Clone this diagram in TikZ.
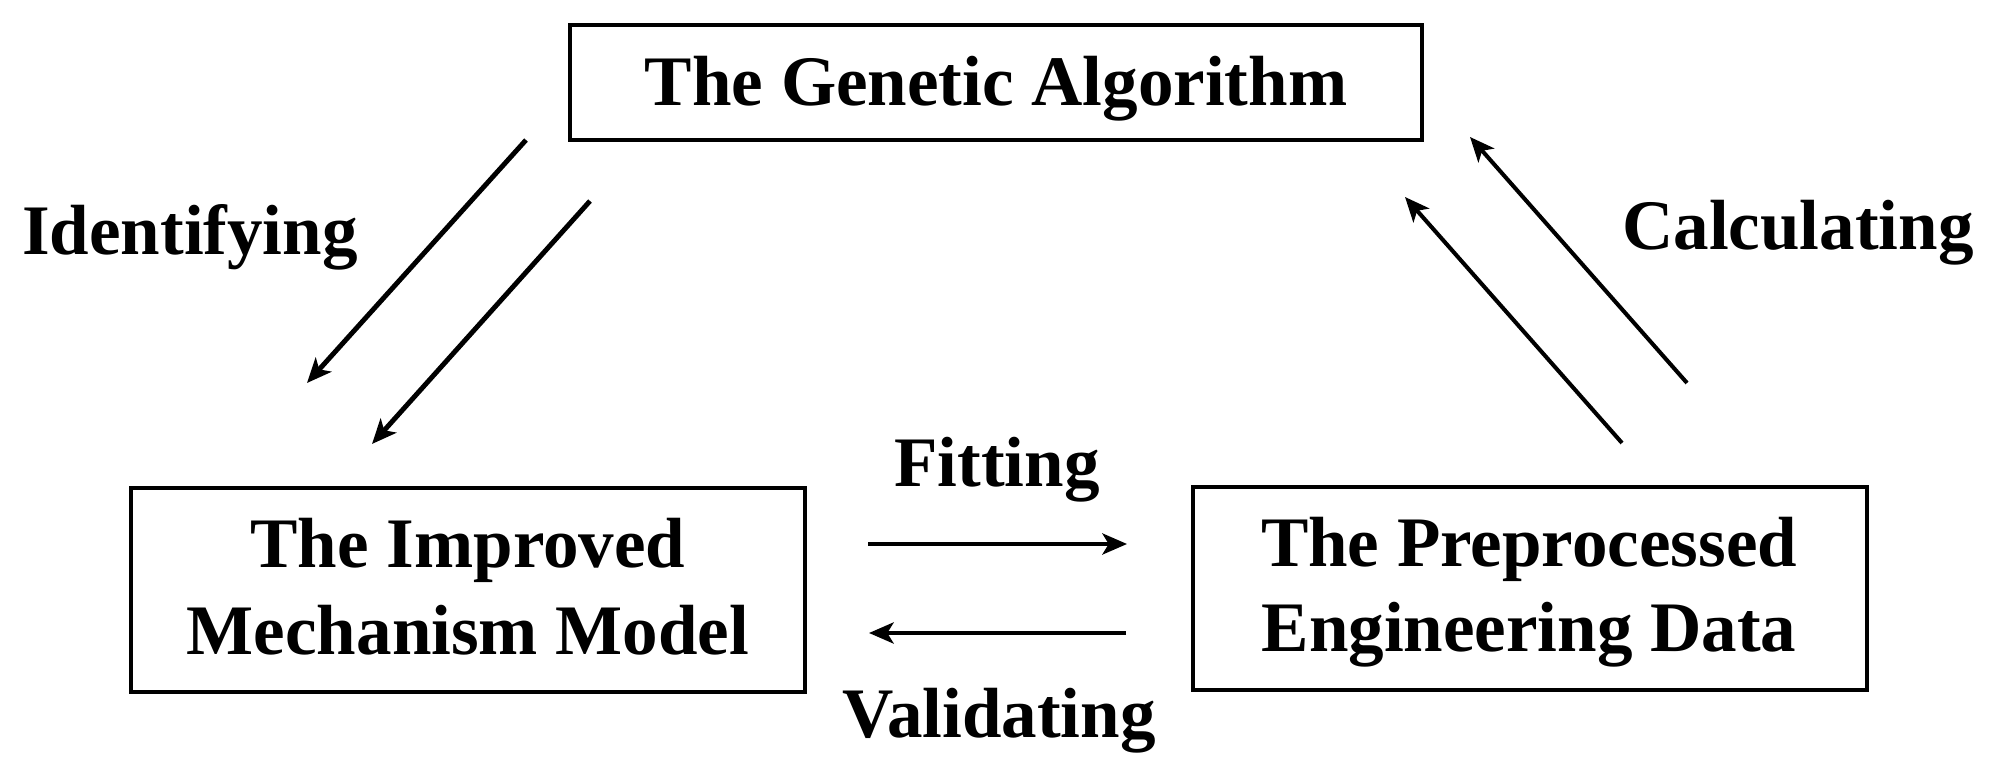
\documentclass[tikz,border=0pt]{standalone}
\usepackage{fontspec}
\setmainfont{Liberation Serif}
\usetikzlibrary{arrows.meta}
\begin{document}
\begin{tikzpicture}[x=0.01cm,y=-0.01cm,
  box/.style={draw=black, line width=1.2pt, inner sep=0pt, outer sep=0pt, rectangle},
  txt/.style={font=\fontsize{20.2}{24.8}\selectfont\bfseries, inner sep=0pt, anchor=base},
  arr/.style={line width=1.15pt, -{Stealth[length=7pt,width=6pt,inset=1.8pt]}},
  thickarr/.style={arr, line width=1.4pt}]
\useasboundingbox (0,0) rectangle (1995,777);
% boxes
\node[box, minimum width=8.52cm, minimum height=1.15cm] (ga) at (996,82.5) {};
\node[box, minimum width=6.74cm, minimum height=2.04cm] (imm) at (468,590) {};
\node[box, minimum width=6.74cm, minimum height=2.03cm] (ped) at (1530,588.5) {};
% box texts
\node[txt] (gat) at (996,106) {The Genetic Algorithm};
\node[txt] (imm1) at (468,568) {The Improved};
\node[txt] (imm2) at (468,655) {Mechanism Model};
\node[txt] (ped1) at (1529,567) {The Preprocessed};
\node[txt] (ped2) at (1529,652) {Engineering Data};
% labels
\node[txt] (lid) at (190,255) {Identifying};
\node[txt] (lca) at (1798,250) {Calculating};
\node[txt] (lfi) at (997,487) {Fitting};
\node[txt] (lva) at (999,738) {Validating};
% arrow end points
\coordinate (ia1) at (526,140);  \coordinate (ia2) at (307,383);
\coordinate (ib1) at (590,201);  \coordinate (ib2) at (372,444);
\coordinate (cc1) at (1687,383); \coordinate (cc2) at (1470,137);
\coordinate (cd1) at (1622,443); \coordinate (cd2) at (1405,197);
\coordinate (f1) at (868,544);   \coordinate (f2) at (1127,544);
\coordinate (v1) at (1126,633);  \coordinate (v2) at (869,633);
% arrows
\draw[thickarr] (ia1) -- (ia2);
\draw[thickarr] (ib1) -- (ib2);
\draw[arr] (cc1) -- (cc2);
\draw[arr] (cd1) -- (cd2);
\draw[arr] (f1) -- (f2);
\draw[arr] (v1) -- (v2);
\end{tikzpicture}
\end{document}
